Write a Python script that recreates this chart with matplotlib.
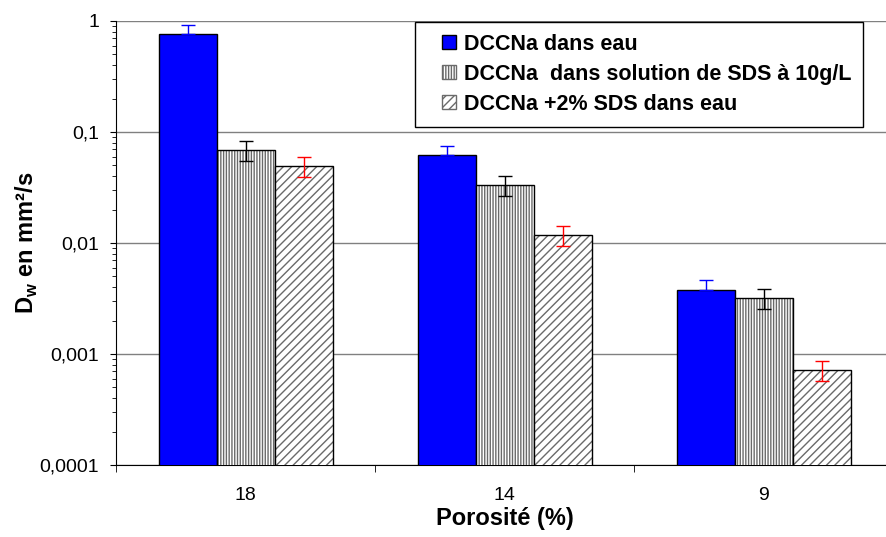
import numpy as np
import matplotlib.pyplot as plt
from matplotlib.patches import Patch, Rectangle
from matplotlib.legend_handler import HandlerPatch
from matplotlib.ticker import FixedLocator, NullFormatter

# data
porosite = ['18', '14', '9']
dw_eau = [0.76, 0.062, 0.0038]
dw_eau_err = [0.16, 0.013, 0.0008]
dw_sds10 = [0.069, 0.0333, 0.0032]
dw_sds10_err = [0.014, 0.0068, 0.00065]
dw_sds2 = [0.049, 0.0118, 0.00072]
dw_sds2_err = [0.010, 0.0024, 0.00015]
labels = ['DCCNa dans eau',
          'DCCNa  dans solution de SDS à 10g/L',
          'DCCNa +2% SDS dans eau']


def square_handle(legend, orig_handle, xdescent, ydescent, width, height, fontsize):
    # small square at the right end of the handle box
    side = height * 0.95
    return Rectangle((-xdescent + width - side, -ydescent + (height - side) / 2), side, side)


def main():
    plt.rcParams['font.family'] = ['Liberation Sans', 'DejaVu Sans']
    plt.rcParams['hatch.linewidth'] = 1.0

    fig = plt.figure(figsize=(8.87, 5.37), dpi=100)
    ax = fig.add_axes([0.1308, 0.134, 1.007 - 0.1308, 0.961 - 0.134])

    x = np.arange(len(porosite))
    w = 0.224
    grey = '#6a6a6a'

    # blue bars, only upper error
    ax.bar(x - w, dw_eau, w, color='#0000ff', edgecolor='black', linewidth=1, zorder=3)
    ax.errorbar(x - w, dw_eau, yerr=[np.zeros(3), dw_eau_err], fmt='none',
                ecolor='#0000ff', capsize=5, elinewidth=1, zorder=4)

    # vertical hatch bars
    ax.bar(x, dw_sds10, w, color='white', edgecolor=grey, hatch='||||||',
           linewidth=0, zorder=3)
    ax.bar(x, dw_sds10, w, fill=False, edgecolor='black', linewidth=1, zorder=3)
    ax.errorbar(x, dw_sds10, yerr=dw_sds10_err, fmt='none', ecolor='black',
                capsize=5, elinewidth=1, zorder=4)

    # diagonal hatch bars
    ax.bar(x + w, dw_sds2, w, color='white', edgecolor=grey, hatch='////',
           linewidth=0, zorder=3)
    ax.bar(x + w, dw_sds2, w, fill=False, edgecolor='black', linewidth=1, zorder=3)
    ax.errorbar(x + w, dw_sds2, yerr=dw_sds2_err, fmt='none', ecolor='red',
                capsize=5, elinewidth=1, zorder=4)

    ax.set_yscale('log')
    ax.set_ylim(0.0001, 1)
    ax.set_xlim(-0.5, 2.5)
    ax.set_yticks([0.0001, 0.001, 0.01, 0.1, 1])
    ax.set_yticklabels(['0,0001', '0,001', '0,01', '0,1', '1'])
    ax.yaxis.set_minor_formatter(NullFormatter())
    ax.tick_params(axis='y', which='major', length=4, labelsize=14, pad=8, direction='out')
    ax.tick_params(axis='y', which='minor', length=3, direction='out')

    ax.set_xticks(x)
    ax.set_xticklabels(porosite)
    ax.xaxis.set_minor_locator(FixedLocator([-0.5, 0.5, 1.5, 2.5]))
    ax.tick_params(axis='x', which='major', length=0, labelsize=14, pad=16)
    ax.tick_params(axis='x', which='minor', length=5, direction='out')

    ax.grid(axis='y', which='major', color='#808080', linewidth=1, zorder=0)
    ax.set_axisbelow(True)
    ax.spines['top'].set_visible(False)
    ax.spines['right'].set_visible(False)

    ax.set_xlabel('Porosité (%)', fontsize=17, fontweight='bold', labelpad=2)
    ax.set_ylabel('D$_\\mathregular{w}$ en mm²/s', fontsize=17, fontweight='bold',
                  labelpad=0)

    handles = [Patch(facecolor='#0000ff', edgecolor='black'),
               Patch(facecolor='white', edgecolor=grey, hatch='||||||'),
               Patch(facecolor='white', edgecolor=grey, hatch='////')]
    leg = ax.legend(handles, labels, loc='upper left',
                    bbox_to_anchor=(415 / 887, 1 - 22 / 537),
                    bbox_transform=fig.transFigure,
                    handler_map={Patch: HandlerPatch(patch_func=square_handle)},
                    prop={'weight': 'bold', 'size': 15.5}, frameon=True,
                    fancybox=False, framealpha=1, edgecolor='black',
                    handlelength=1.35, handleheight=0.68, handletextpad=0.37,
                    labelspacing=0.42, borderpad=0.55, borderaxespad=0)
    leg.get_frame().set_linewidth(1)
    leg.set_zorder(5)

    fig.savefig('out.png', dpi=100)


if __name__ == '__main__':
    main()
